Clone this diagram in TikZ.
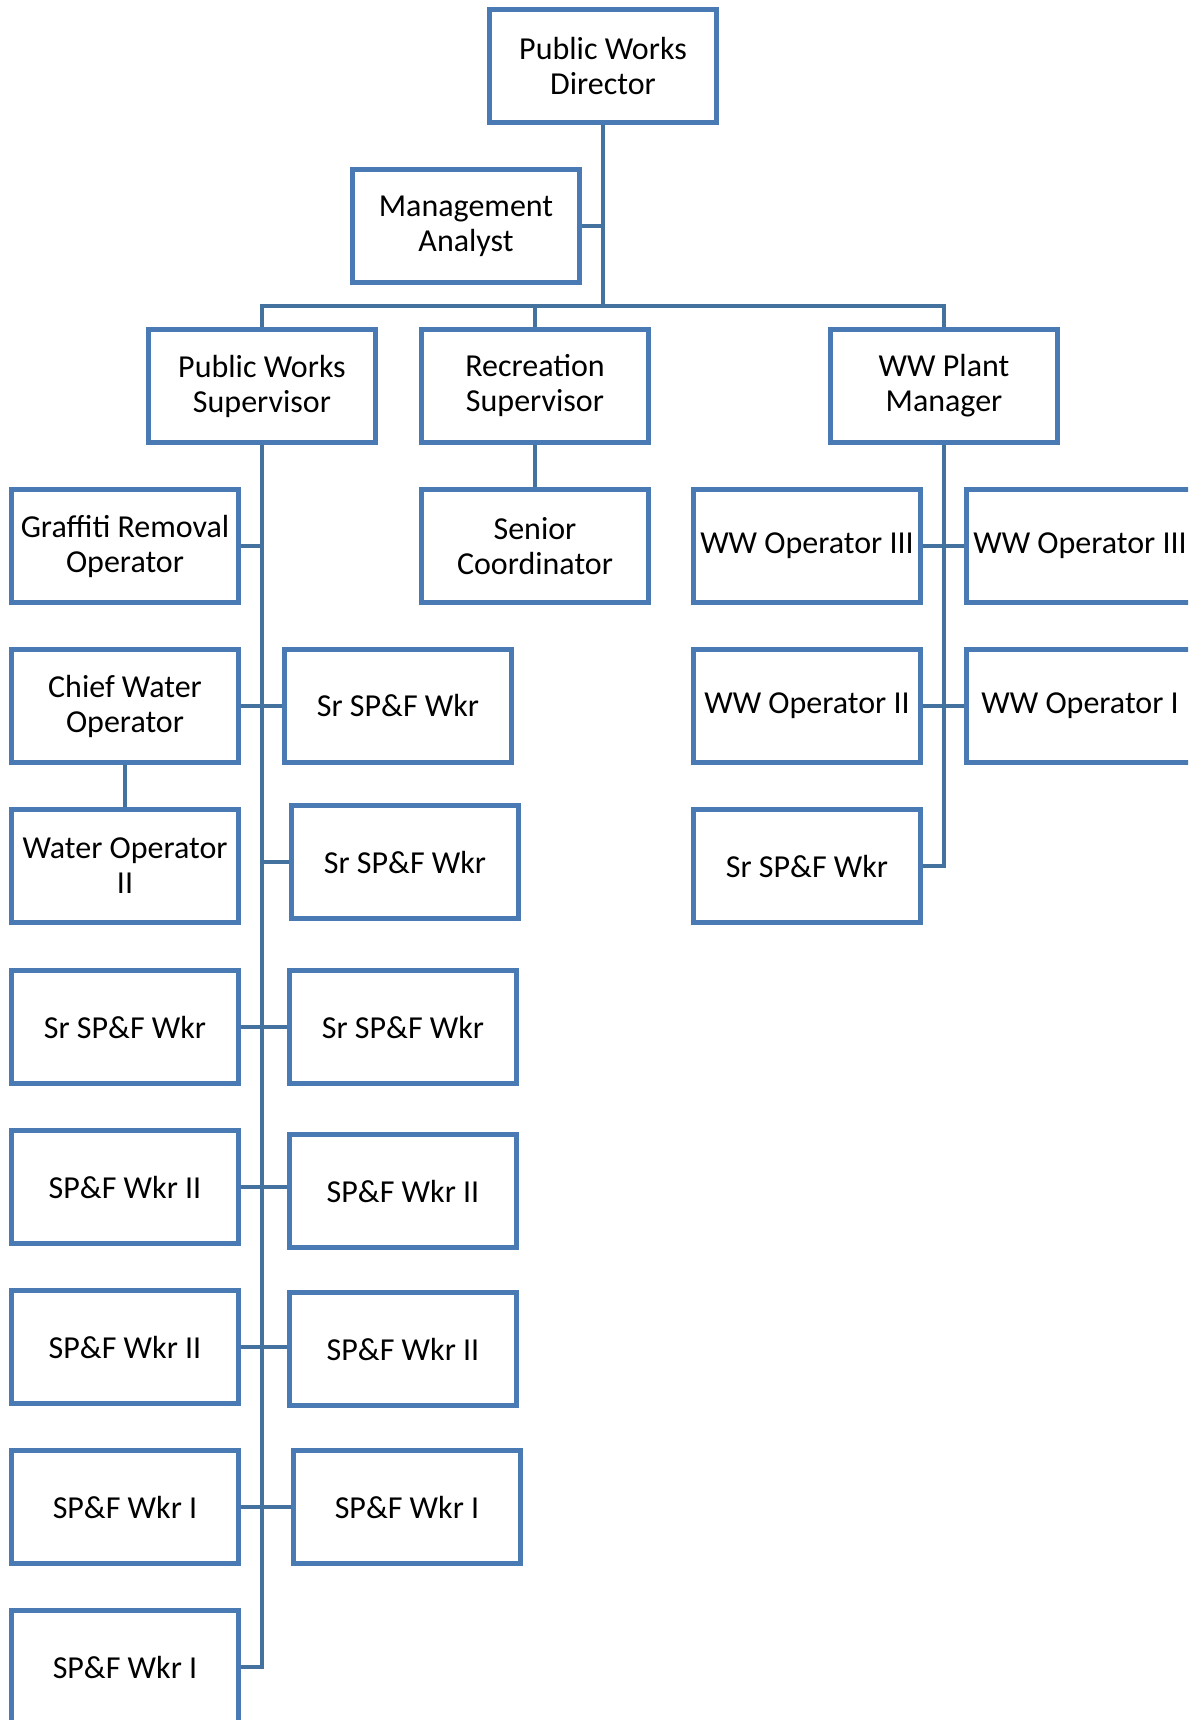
\documentclass[tikz,border=0pt]{standalone}
\usepackage{fontspec}
\setmainfont{Carlito}
\definecolor{boxblue}{HTML}{4A7AB4}
\definecolor{linkblue}{HTML}{44729F}
\begin{document}
\begin{tikzpicture}[x=1pt,y=-1pt,
  unit/.style={draw=boxblue, line width=4.5pt, fill=white, rectangle,
    minimum width=227pt, minimum height=113pt, inner sep=2pt, align=center,
    font=\fontsize{32}{35}\selectfont},
  link/.style={draw=linkblue, line width=4.5pt}]
\useasboundingbox (0,0) rectangle (1188,1720);
\clip (0,0) rectangle (1188,1720);

% top level
\node[unit] (pwd) at (603,66) {Public Works\\Director};
\node[unit] (ma) at (466,226) {Management\\Analyst};
\coordinate (bus) at (603,306);

% second level
\node[unit] (pws) at (262,386) {Public Works\\Supervisor};
\node[unit] (rs) at (535,386) {Recreation\\Supervisor};
\node[unit] (wwpm) at (944,386) {WW Plant\\Manager};

% recreation branch
\node[unit] (sc) at (535,546) {Senior\\Coordinator};

% public works branch, left column
\node[unit] (gro) at (125,546) {Graffiti Removal\\Operator};
\node[unit] (cwo) at (125,706) {Chief Water\\Operator};
\node[unit] (wo2) at (125,866) {Water Operator\\II};
\node[unit] (la) at (125,1027) {Sr SP\&F Wkr};
\node[unit] (lb) at (125,1187) {SP\&F Wkr II};
\node[unit] (lc) at (125,1347) {SP\&F Wkr II};
\node[unit] (ld) at (125,1507) {SP\&F Wkr I};
\node[unit] (le) at (125,1667) {SP\&F Wkr I};

% public works branch, right column
\node[unit] (ra) at (398,706) {Sr SP\&F Wkr};
\node[unit] (rb) at (405,862) {Sr SP\&F Wkr};
\node[unit] (rc) at (403,1027) {Sr SP\&F Wkr};
\node[unit] (rd) at (403,1191) {SP\&F Wkr II};
\node[unit] (re) at (403,1349) {SP\&F Wkr II};
\node[unit] (rf) at (407,1507) {SP\&F Wkr I};

% plant branch
\node[unit] (w3a) at (807,546) {WW Operator III};
\node[unit] (w3b) at (1080,546) {WW Operator III};
\node[unit] (w2) at (807,706) {WW Operator II};
\node[unit] (w1) at (1080,706) {WW Operator I};
\node[unit] (wsr) at (807,866) {Sr SP\&F Wkr};

% connectors
\draw[link] (pwd.south) -- (bus);
\draw[link] (ma.east) -- (ma.east -| pwd.south);
\draw[link] (pws.north) |- (bus) -| (wwpm.north);
\draw[link] (rs.north) -- (rs.north |- bus);
\draw[link] (rs.south) -- (sc.north);

\draw[link] (pws.south) |- (le.east);
\draw[link] (gro.east) -- (gro.east -| pws.south);
\draw[link] (cwo.east) -- (ra.west |- cwo.east);
\draw[link] (cwo.south) -- (wo2.north);
\draw[link] (rb.west) -- (rb.west -| pws.south);
\draw[link] (la.east) -- (rc.west |- la.east);
\draw[link] (lb.east) -- (rd.west |- lb.east);
\draw[link] (lc.east) -- (re.west |- lc.east);
\draw[link] (ld.east) -- (rf.west |- ld.east);

\draw[link] (wwpm.south) |- (wsr.east);
\draw[link] (w3a.east) -- (w3b.west);
\draw[link] (w2.east) -- (w1.west);
\end{tikzpicture}
\end{document}
